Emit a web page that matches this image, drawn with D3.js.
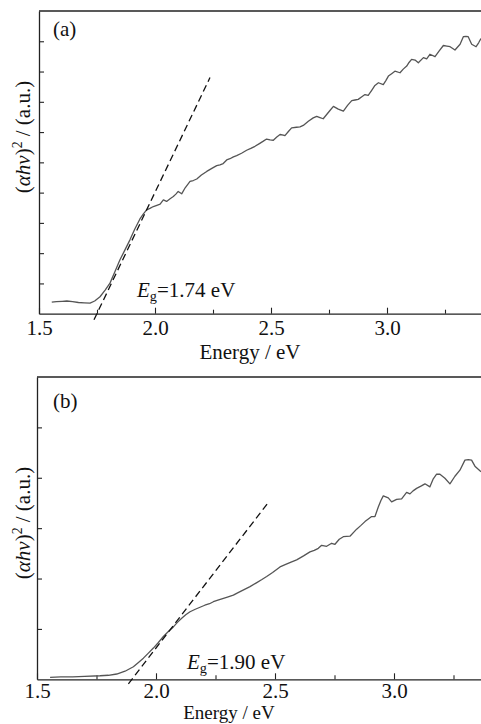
<!DOCTYPE html>
<html><head><meta charset="utf-8">
<script src="https://cdn.jsdelivr.net/npm/d3@7"></script>
<style>
body{margin:0;background:#fff}
text{font-family:"Liberation Serif","Times New Roman",serif;fill:#111}
</style>
</head><body>
<svg id="chart" width="481" height="724"></svg>
<script>
// ---------- data ----------
const energyA = [1.555,1.575,1.60,1.62,1.645,1.67,1.695,1.72,1.74,1.763,1.785,1.806,1.828,1.849,1.870,1.892,1.913,1.935,1.950,1.964,1.978,1.993,2.008,2.022,2.036,2.050,2.065,2.079,2.090,2.100,2.115,2.130,2.151,2.165,2.180,2.200,2.223,2.245,2.266,2.280,2.294,2.309,2.323,2.338,2.352,2.373,2.395,2.413,2.431,2.450,2.467,2.481,2.496,2.510,2.525,2.539,2.553,2.560,2.575,2.589,2.610,2.625,2.639,2.661,2.682,2.697,2.711,2.725,2.740,2.755,2.769,2.790,2.812,2.830,2.848,2.862,2.876,2.890,2.905,2.919,2.934,2.948,2.963,2.984,2.995,3.006,3.020,3.034,3.056,3.070,3.085,3.095,3.106,3.121,3.135,3.157,3.171,3.185,3.207,3.225,3.243,3.258,3.272,3.293,3.315,3.329,3.340,3.350,3.365,3.384,3.395,3.405];
const absorbA = [0.38,0.40,0.41,0.42,0.40,0.37,0.36,0.35,0.42,0.56,0.78,1.01,1.40,1.78,2.10,2.44,2.80,3.13,3.30,3.43,3.48,3.54,3.58,3.62,3.76,3.71,3.80,3.87,3.95,4.04,3.96,4.16,4.37,4.40,4.45,4.58,4.70,4.80,4.89,4.92,4.96,5.08,5.12,5.18,5.22,5.30,5.40,5.46,5.53,5.62,5.70,5.77,5.74,5.73,5.84,5.92,5.90,5.88,6.02,6.14,6.16,6.17,6.22,6.36,6.47,6.52,6.48,6.44,6.58,6.72,6.85,6.76,6.69,6.88,7.04,7.06,7.08,7.16,7.24,7.21,7.38,7.54,7.63,7.57,7.70,7.85,7.93,8.01,7.96,8.08,8.18,8.30,8.40,8.38,8.29,8.46,8.42,8.57,8.49,8.68,8.86,8.84,8.82,8.71,8.90,9.15,9.16,9.15,8.90,8.82,8.95,9.09];

const energyB = [1.555,1.60,1.65,1.70,1.765,1.80,1.835,1.87,1.905,1.925,1.947,1.968,1.989,2.010,2.031,2.052,2.073,2.090,2.108,2.125,2.143,2.165,2.185,2.205,2.225,2.241,2.260,2.280,2.300,2.325,2.345,2.370,2.395,2.420,2.445,2.465,2.490,2.521,2.545,2.570,2.591,2.620,2.647,2.665,2.682,2.696,2.717,2.738,2.752,2.770,2.787,2.815,2.843,2.860,2.878,2.906,2.920,2.934,2.945,2.955,2.976,2.990,3.011,3.032,3.053,3.067,3.080,3.095,3.115,3.130,3.151,3.165,3.179,3.193,3.214,3.235,3.256,3.277,3.298,3.312,3.326,3.340,3.361,3.366];
const absorbB = [0.04,0.05,0.05,0.06,0.07,0.08,0.105,0.16,0.25,0.33,0.42,0.52,0.62,0.73,0.85,0.95,1.04,1.13,1.21,1.28,1.34,1.39,1.43,1.47,1.50,1.54,1.57,1.60,1.63,1.67,1.72,1.78,1.84,1.91,1.98,2.04,2.12,2.23,2.28,2.33,2.37,2.45,2.53,2.56,2.60,2.66,2.64,2.70,2.68,2.78,2.83,2.84,2.98,3.05,3.13,3.23,3.23,3.42,3.55,3.64,3.60,3.52,3.57,3.58,3.71,3.68,3.74,3.79,3.84,3.88,3.82,3.98,4.07,4.07,3.99,3.88,4.03,4.15,4.35,4.36,4.35,4.23,4.14,4.12];

const fitEnergyA = [1.737, 2.237];
const fitAbsA = [-0.2, 7.8];
const fitEnergyB = [1.884, 2.472];
const fitAbsB = [-0.09, 3.51];

const xMajorTicks = [1.5, 2.0, 2.5, 3.0];
const xMinorTicks = [1.75, 2.25, 2.75, 3.25];
const yTicksA = [1,2,3,4,5,6,7,8,9];
const yTicksB = [1,2,3,4,5];
const panelLabels = ["(a)", "(b)"];
const gapValues = ["1.74 eV", "1.90 eV"];
const xTitle = "Energy / eV";

// ---------- drawing ----------
const svg = d3.select("#chart");
const FS = 21;

function drawPanel(p) {
  const g = svg.append("g");
  const x = d3.scaleLinear().domain([1.5, 3.5]).range([p.left, p.left + 4 * p.half]);
  const y = d3.scaleLinear().domain([0, p.yMax]).range([p.bottom, p.top]);

  // top border
  g.append("line").attr("x1", p.left).attr("x2", 481).attr("y1", p.top).attr("y2", p.top)
    .attr("stroke", "#222").attr("stroke-width", 1.3);

  // x axis major
  const ax = g.append("g").attr("transform", `translate(0,${p.bottom})`)
    .call(d3.axisBottom(x).tickValues(xMajorTicks).tickSize(-6).tickSizeOuter(0)
      .tickPadding(p.pad).tickFormat(d3.format(".1f")));
  ax.select(".domain").attr("stroke", "#222").attr("stroke-width", 1.3);
  ax.selectAll(".tick line").attr("stroke", "#222").attr("stroke-width", 1.1);
  ax.attr("font-size", FS).attr("font-family", null);

  // x axis minor
  const axm = g.append("g").attr("transform", `translate(0,${p.bottom})`)
    .call(d3.axisBottom(x).tickValues(xMinorTicks).tickSize(-4).tickFormat(""));
  axm.select(".domain").remove();
  axm.selectAll(".tick line").attr("stroke", "#222").attr("stroke-width", 1.1);

  // y axis
  const ay = g.append("g").attr("transform", `translate(${p.left},0)`)
    .call(d3.axisLeft(y).tickValues(p.yTicks).tickSize(-5).tickSizeOuter(0).tickFormat(""));
  ay.select(".domain").attr("stroke", "#222").attr("stroke-width", 1.3);
  ay.selectAll(".tick line").attr("stroke", "#222").attr("stroke-width", 1.1);

  // curve
  const pts = p.ex.map((e, i) => [e, p.ab[i]]);
  g.append("path").datum(pts)
    .attr("fill", "none").attr("stroke", "#555").attr("stroke-width", 1.3)
    .attr("stroke-linejoin", "round")
    .attr("d", d3.line().x(d => x(d[0])).y(d => y(d[1])));

  // tangent (fit) line
  const fit = p.fx.map((e, i) => [e, p.fy[i]]);
  g.append("path").datum(fit)
    .attr("fill", "none").attr("stroke", "#111").attr("stroke-width", 1.3)
    .attr("stroke-dasharray", "7,4")
    .attr("d", d3.line().x(d => x(d[0])).y(d => y(d[1])));

  // panel label
  g.append("text").attr("x", p.lab[0]).attr("y", p.lab[1]).attr("font-size", FS).text(p.label);

  // Eg label
  const t = g.append("text").attr("x", p.eg[0]).attr("y", p.eg[1]).attr("font-size", FS);
  t.append("tspan").attr("font-style", "italic").text("E");
  t.append("tspan").attr("font-size", FS * 0.68).attr("dy", 4).text("g");
  t.append("tspan").attr("dy", -4).text("=" + p.gap);

  // x title
  g.append("text").attr("x", p.xt[0]).attr("y", p.xt[1]).attr("text-anchor", "middle")
    .attr("font-size", p.xtSize).text(xTitle);

  // y title
  const yt = g.append("text").attr("text-anchor", "middle").attr("font-size", FS)
    .attr("transform", `translate(${p.yt[0]},${p.yt[1]}) rotate(-90)`);
  yt.append("tspan").text("(");
  yt.append("tspan").attr("font-style", "italic").text("αhν");
  yt.append("tspan").text(")");
  yt.append("tspan").attr("font-size", FS * 0.65).attr("dy", -8).text("2");
  yt.append("tspan").attr("dy", 8).text(" / (a.u.)");
}

drawPanel({left: 39, half: 116, top: 11, bottom: 313.7, yMax: 10, yTicks: yTicksA,
  ex: energyA, ab: absorbA, fx: fitEnergyA, fy: fitAbsA, pad: 6,
  label: panelLabels[0], lab: [53, 36], gap: gapValues[0], eg: [137, 297],
  xt: [250, 358.5], xtSize: 21, yt: [30, 137]});

drawPanel({left: 37, half: 119, top: 377, bottom: 679.3, yMax: 6, yTicks: yTicksB,
  ex: energyB, ab: absorbB, fx: fitEnergyB, fy: fitAbsB, pad: 4,
  label: panelLabels[1], lab: [53, 408], gap: gapValues[1], eg: [187, 669],
  xt: [229, 719], xtSize: 19, yt: [30, 523]});
</script>
</body></html>
